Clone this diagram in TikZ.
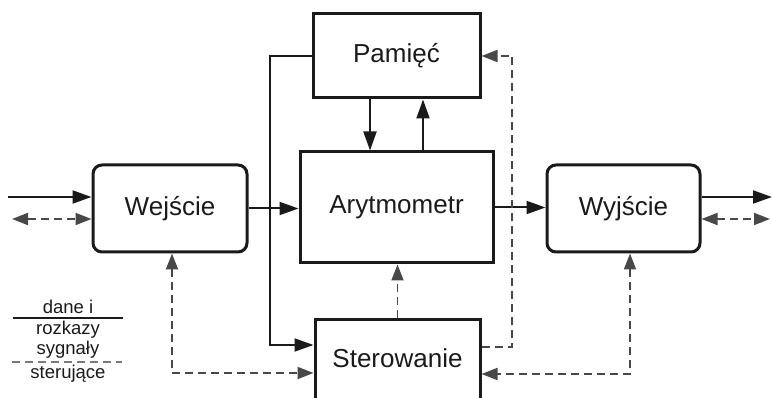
\documentclass[tikz,border=0pt]{standalone}
\usepackage{fontspec}
\setmainfont{Liberation Sans}
\usetikzlibrary{arrows.meta,calc}
\definecolor{ink}{HTML}{1A1A1A}
\definecolor{ctl}{HTML}{484848}
\definecolor{legctl}{HTML}{7A7A7A}
\begin{document}
\begin{tikzpicture}[x=1pt,y=-1pt,
  blk/.style={draw=ink, line width=3pt, text=ink, inner sep=0pt,
    font=\fontsize{26}{30}\selectfont},
  rblk/.style={blk, rounded corners=9pt},
  data/.style={draw=ink, line width=2pt, -{Triangle[length=19pt,width=13pt]}},
  ctrl/.style={draw=ctl, line width=1.8pt, dash pattern=on 8pt off 5pt,
    -{Triangle[length=16pt,width=12pt]}},
  ctrl2/.style={ctrl, {Triangle[length=16pt,width=12pt]}-{Triangle[length=16pt,width=12pt]}},
  leg/.style={text=ink, font=\fontsize{18.5}{20}\selectfont, inner sep=0pt}
]
\useasboundingbox (0,0) rectangle (772,398);
\clip (0,0) rectangle (772,398);

% blocks
\node[blk, minimum width=167pt, minimum height=84pt] (pam) at (396.5,56) {Pamięć};
\node[blk, minimum width=193pt, minimum height=111pt] (ary) at (396.5,207.5) {Arytmometr};
\node[rblk, minimum width=154pt, minimum height=87pt] (wej) at (170,208.5) {Wejście};
\node[rblk, minimum width=153pt, minimum height=87pt] (wyj) at (623.5,208.5) {Wyjście};
% the control unit runs past the lower edge; its label sits a little high
\node[blk, minimum width=165pt, minimum height=86pt, anchor=north,
  text height=19pt, text depth=9pt] (ster) at (397.5,318) {Sterowanie};

% free ends and bends
\coordinate (inA) at (8,197);
\coordinate (inB) at (12,219);
\coordinate (outA) at (772,197);
\coordinate (outB) at (770,219);
\coordinate (bus) at (270,345);
\coordinate (rt) at (512,347);
\coordinate (lb) at (172,373);
\coordinate (rb) at (630,374);

% data paths
\draw[data] (inA) -- (inA -| wej.west);
\draw[data] (wej.east) -- (wej.east -| ary.west);
\draw[data] (ary.east) -- (ary.east -| wyj.west);
\draw[data] (wyj.east |- outA) -- (outA);
\draw[data] (pam.west) -| (bus) -- (bus -| ster.west);
\draw[data] ($(pam.south)+(-26.5,0)$) -- ($(ary.north)+(-26.5,0)$);
\draw[data] ($(ary.north)+(26.5,0)$) -- ($(pam.south)+(26.5,0)$);

% control signals
\draw[ctrl2] (inB) -- (inB -| wej.west);
\draw[ctrl2] (wyj.east |- outB) -- (outB);
\draw[ctrl] (ster.north) -- (ster.north |- ary.south);
\draw[ctrl] (ster.east |- rt) -- (rt) -- (rt |- pam.east) -- (pam.east);
\draw[ctrl2] (lb |- wej.south) -- (lb) -- (lb -| ster.west);
\draw[ctrl2] (rb |- wyj.south) -- (rb) -- (rb -| ster.east);

% legend
\node[leg] (l1) at (68,307) {dane i};
\node[leg] (l2) at (68,330) {rozkazy};
\node[leg] (l3) at (68,350) {sygnały};
\node[leg] (l4) at (68,374) {sterujące};
\draw[ink, line width=1.8pt] (13,318) -- (123,318);
\draw[legctl, line width=1.8pt, dash pattern=on 8pt off 5pt] (12,362) -- (122,362);
\end{tikzpicture}
\end{document}
